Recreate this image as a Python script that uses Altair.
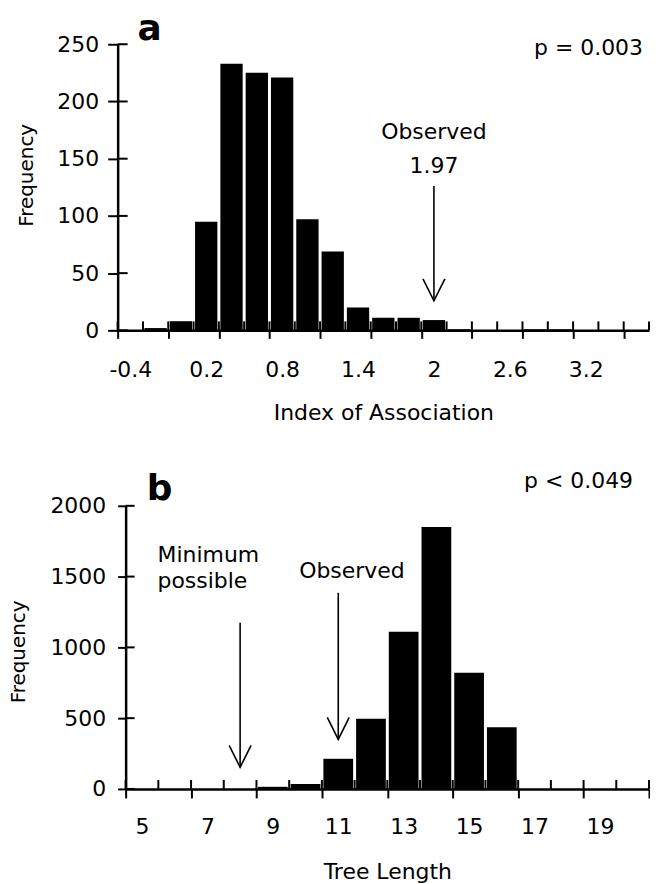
import altair as alt
import pandas as pd

# ---------------- Panel a : Index of Association ----------------
ia_bins = [-0.4, -0.2, 0.0, 0.2, 0.4, 0.6, 0.8, 1.0, 1.2, 1.4, 1.6, 1.8, 2.0,
           2.2, 2.4, 2.6, 2.8, 3.0, 3.2, 3.4, 3.6]
ia_freq = [0, 2, 8, 95, 233, 225, 221, 97, 69, 20, 11, 11, 9,
           1, 0, 0, 1, 1, 0, 0, 0]
ia_tick_labels = [-0.4, 0.2, 0.8, 1.4, 2, 2.6, 3.2]
ia_y_ticks = [0, 50, 100, 150, 200, 250]
ia_bin_width = 0.2
ia_observed = 1.97
ia_p_text = "p = 0.003"

# ---------------- Panel b : Tree Length ----------------
tl_bins = [5, 6, 7, 8, 9, 10, 11, 12, 13, 14, 15, 16, 17, 18, 19, 20]
tl_freq = [0, 0, 0, 0, 15, 35, 213, 495, 1110, 1850, 820, 435, 0, 0, 0, 0]
tl_tick_labels = [5, 7, 9, 11, 13, 15, 17, 19]
tl_y_ticks = [0, 500, 1000, 1500, 2000]
tl_bin_width = 1
tl_observed = 11
tl_minimum = 8
tl_p_text = "p < 0.049"

FONT = "DejaVu Sans"
ARROW = "M-1,-2L0,0L1,-2"
ONE = pd.DataFrame({"v": [0]})


def bin_center(bins, bw, value):
    k = round((value - bins[0]) / bw)
    return bins[0] + k * bw


def text_layer(label, x, y, align="center", size=22, weight="normal"):
    return alt.Chart(pd.DataFrame({"label": [label]})).mark_text(
        align=align, baseline="alphabetic", font=FONT, fontSize=size,
        fontWeight=weight, color="black"
    ).encode(x=x, y=y, text="label:N")


def arrow_layers(xv, top, tip):
    shaft = alt.Chart(ONE).mark_rule(color="black", strokeWidth=1.6).encode(
        x=alt.datum(xv), y=alt.value(top), y2=alt.value(tip))
    head = alt.Chart(ONE).mark_point(
        shape=ARROW, size=484, filled=False, strokeWidth=1.6,
        color="black", opacity=1).encode(x=alt.datum(xv), y=alt.value(tip))
    return [shaft, head]


def panel(bins, freq, bw, tick_labels, yticks, xtitle, width, height, x0,
          xtick_down, xtick_up, ytick_left, ytick_right, ylabel_pad,
          ytitle_x, ytitle_y, xlabel_pad, xtitle_y, extra):
    df = pd.DataFrame({"bin": bins, "freq": freq})
    df["lo"] = df["bin"] - bw / 2
    df["hi"] = df["bin"] + bw / 2
    edges = [float(v) for v in df["lo"]] + [float(df["hi"].iloc[-1])]
    xs = alt.Scale(domain=[edges[0], edges[-1]], range=[x0, width],
                   nice=False, zero=False)
    ys = alt.Scale(domain=[0, yticks[-1]], nice=False)
    x_axis = alt.Axis(values=edges, labels=False, ticks=True,
                      tickSize=xtick_down, title=None, grid=False,
                      domain=True, orient="bottom", zindex=1)
    y_axis = alt.Axis(values=yticks, format="d", title="Frequency",
                      titleFontSize=20, tickSize=ytick_left,
                      labelPadding=ylabel_pad, offset=-x0,
                      titleX=ytitle_x, titleY=ytitle_y, grid=False, zindex=1)

    bars = alt.Chart(df).mark_rect(color="black", xOffset=1.5, x2Offset=-1.5).encode(
        x=alt.X("lo:Q", scale=xs, axis=x_axis),
        x2="hi:Q",
        y=alt.Y("freq:Q", scale=ys, axis=y_axis),
        y2=alt.datum(0),
    )
    up = alt.Chart(pd.DataFrame({"lo": edges})).mark_rule(
        color="black", strokeWidth=2).encode(
        x=alt.X("lo:Q", scale=xs, axis=x_axis),
        y=alt.value(height), y2=alt.value(height - xtick_up))
    right = alt.Chart(pd.DataFrame({"freq": yticks})).mark_rule(
        color="black", strokeWidth=2).encode(
        y=alt.Y("freq:Q", scale=ys, axis=y_axis),
        x=alt.value(x0), x2=alt.value(x0 + ytick_right))

    layers = [bars, up, right]
    for item in extra(xs):
        layers.append(item)
    base = alt.layer(*layers)

    lab = alt.Chart(pd.DataFrame({"bin": tick_labels})).mark_point(opacity=0).encode(
        x=alt.X("bin:Q", scale=xs,
                axis=alt.Axis(values=tick_labels, ticks=False, tickSize=0,
                              domain=False, labelPadding=xlabel_pad,
                              labelExpr="toString(datum.value)",
                              labelFlush=False, labelOverlap=False,
                              title=xtitle, titleY=xtitle_y, grid=False,
                              orient="bottom")),
        y=alt.value(0))
    return alt.layer(base, lab).resolve_scale(x="independent").properties(
        width=width, height=height)


def extra_a(xs):
    xv = bin_center(ia_bins, ia_bin_width, ia_observed)
    items = [
        text_layer("a", alt.value(32), alt.value(-4.4), size=36, weight="bold"),
        text_layer(ia_p_text, alt.value(527), alt.value(10.6), align="right"),
        text_layer("Observed", alt.datum(xv), alt.value(95.3)),
        text_layer(str(ia_observed), alt.datum(xv), alt.value(129)),
    ]
    items += arrow_layers(xv, 142.3, 257.3)
    return items


def extra_b(xs):
    items = [
        text_layer("b", alt.value(42), alt.value(-5.7), size=36, weight="bold"),
        text_layer(tl_p_text, alt.value(517), alt.value(-17.4), align="right"),
        text_layer("Minimum", alt.value(40), alt.value(56), align="left"),
        text_layer("possible", alt.value(40), alt.value(82.6), align="left"),
        text_layer("Observed", alt.value(235), alt.value(72.6)),
    ]
    items += arrow_layers(tl_minimum, 117.3, 262.3)
    items += arrow_layers(tl_observed, 87.3, 234.3)
    return items


pa = panel(ia_bins, ia_freq, ia_bin_width, ia_tick_labels, ia_y_ticks,
           "Index of Association", 533, 287, 0,
           8, 9, 10, 10, 9, -81, 131, 29, 72, extra_a)
pb = panel(tl_bins, tl_freq, tl_bin_width, tl_tick_labels, tl_y_ticks,
           "Tree Length", 533, 284, 8,
           9, 9, 8, 9, 12, -97, 146, 28, 72.7, extra_b)

chart = alt.vconcat(pa, pb, spacing=176, bounds="flush").properties(
    padding={"left": 0, "top": 1, "right": 0, "bottom": 0}
).configure_view(stroke=None).configure_axis(
    labelFont=FONT, labelFontSize=22, labelColor="black",
    titleFont=FONT, titleFontSize=22, titleFontWeight="normal", titleColor="black",
    domainColor="black", domainWidth=2.5, tickColor="black", tickWidth=2,
)

chart.save("out.html", embed_options={"renderer": "svg", "actions": False})
